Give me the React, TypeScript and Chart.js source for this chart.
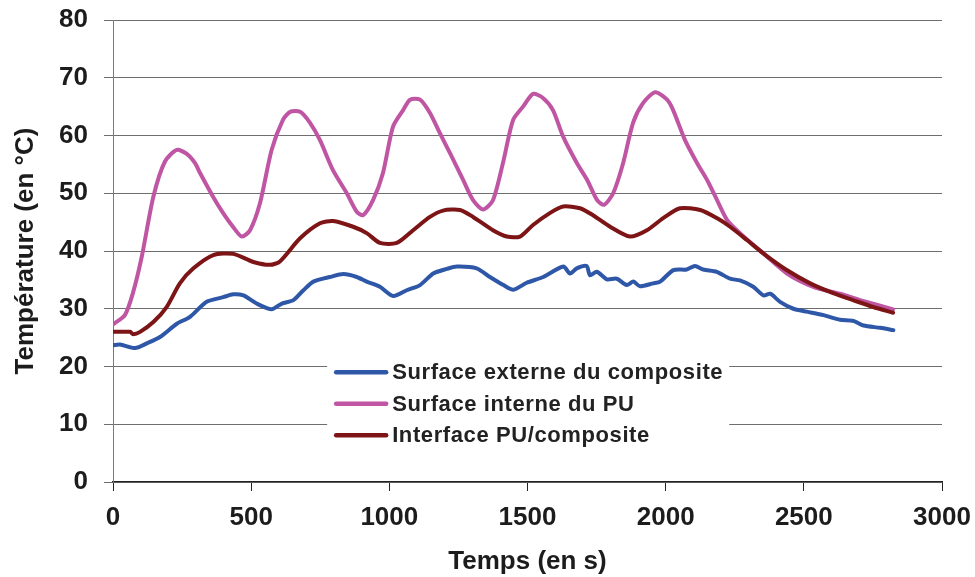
import React, { useEffect, useRef } from "react";
import { Chart, registerables } from "chart.js";

Chart.register(...registerables);

// ---- Data ----
const seriesLabels = [
  "Surface externe du composite",
  "Surface interne du PU",
  "Interface PU/composite",
];
const seriesColors = ["#2f57a8", "#bf55a3", "#7d1416"];

const xTickValues = [0, 500, 1000, 1500, 2000, 2500, 3000];
const yTickValues = [0, 10, 20, 30, 40, 50, 60, 70, 80];

const blueTimes = [0, 25, 80, 122, 170, 231, 279, 339, 399, 435, 472, 520, 574, 611, 653, 689, 725, 785, 834, 882, 918, 966, 1014, 1063, 1111, 1159, 1208, 1244, 1316, 1364, 1413, 1449, 1497, 1557, 1630, 1654, 1678, 1714, 1726, 1751, 1787, 1823, 1859, 1883, 1907, 1955, 1980, 2028, 2076, 2106, 2136, 2185, 2233, 2269, 2317, 2354, 2378, 2414, 2462, 2511, 2571, 2631, 2679, 2716, 2776, 2824];
const blueValues = [23.7, 23.8, 23.2, 24, 25.1, 27.4, 28.6, 31.2, 32, 32.5, 32.3, 30.9, 29.9, 30.9, 31.5, 33.2, 34.7, 35.5, 36, 35.5, 34.7, 33.8, 32.2, 33.2, 34.1, 36.1, 36.9, 37.3, 37, 35.5, 34.1, 33.3, 34.5, 35.5, 37.3, 36.1, 37, 37.4, 35.8, 36.4, 35.1, 35.2, 34.1, 34.7, 33.9, 34.4, 34.7, 36.7, 36.8, 37.4, 36.8, 36.4, 35.2, 34.9, 33.8, 32.3, 32.6, 31.2, 30, 29.5, 28.9, 28.1, 27.9, 27.1, 26.7, 26.3];

const pinkTimes = [0, 43, 72, 104, 146, 188, 231, 267, 297, 315, 362, 398, 434, 466, 496, 532, 574, 615, 641, 677, 713, 749, 796, 846, 882, 905, 941, 977, 1013, 1050, 1075, 1111, 1147, 1183, 1220, 1267, 1303, 1339, 1375, 1411, 1448, 1484, 1520, 1556, 1592, 1629, 1679, 1716, 1752, 1777, 1810, 1846, 1882, 1918, 1962, 2005, 2027, 2070, 2114, 2150, 2186, 2222, 2269, 2353, 2439, 2534, 2631, 2704, 2823];
const pinkValues = [27.3, 28.9, 32.7, 39, 49.4, 55.5, 57.5, 56.8, 55.2, 53.5, 49.4, 46.6, 44.2, 42.5, 43.6, 48.3, 57.5, 62.7, 64.1, 64.1, 62.2, 59.2, 54, 50, 46.8, 46.2, 48.8, 53.5, 61.5, 64.4, 66.2, 66.2, 63.9, 60.4, 56.9, 52.3, 48.8, 47.2, 48.8, 55.2, 62.7, 65, 67.2, 66.5, 64.4, 59.8, 55.2, 52.3, 48.8, 48, 50, 55.2, 62.2, 65.6, 67.5, 66.2, 64.4, 59.2, 55.2, 52.3, 48.8, 45.4, 43.1, 39.6, 36.1, 33.8, 32.6, 31.5, 29.9];

const redTimes = [0, 62, 73, 98, 146, 194, 242, 291, 363, 435, 508, 568, 604, 677, 749, 796, 869, 918, 966, 1027, 1086, 1147, 1194, 1256, 1303, 1375, 1425, 1473, 1520, 1582, 1629, 1690, 1737, 1799, 1871, 1932, 1991, 2052, 2125, 2185, 2233, 2294, 2353, 2438, 2523, 2606, 2678, 2751, 2823];
const redValues = [26, 26, 25.6, 26, 27.7, 30.3, 34.4, 37, 39.3, 39.5, 38.1, 37.6, 38.2, 42.2, 44.8, 45.2, 44.2, 43.1, 41.4, 41.4, 43.6, 45.9, 47, 47.1, 45.9, 43.6, 42.5, 42.5, 44.5, 46.6, 47.7, 47.4, 46.2, 44.2, 42.5, 43.6, 45.7, 47.4, 47.1, 45.7, 44.2, 41.9, 39.6, 36.7, 34.4, 32.7, 31.5, 30.3, 29.3];

const xTitle = "Temps (en s)";
const yTitle = "Température (en °C)";

const FONT = "'Liberation Sans', Arial, Helvetica, sans-serif";

function toPoints(times: number[], values: number[]) {
  return times.map((t, i) => ({ x: t, y: values[i] }));
}

const boxLegendPlugin = {
  id: "boxLegend",
  afterDatasetsDraw(chart: any) {
    const c = chart.ctx as CanvasRenderingContext2D;
    const xs = chart.scales.x;
    const ys = chart.scales.y;
    const left = xs.getPixelForValue(775);
    const right = xs.getPixelForValue(2230);
    const top = ys.getPixelForValue(21.6);
    const bottom = ys.getPixelForValue(5.1);
    c.save();
    c.fillStyle = "#ffffff";
    c.fillRect(left, top, right - left, bottom - top);
    c.font = `bold 22px ${FONT}`;
    (c as any).letterSpacing = "0.6px";
    c.textBaseline = "middle";
    c.textAlign = "left";
    seriesLabels.forEach((label, i) => {
      const y = top + 15 + i * 31.5;
      c.strokeStyle = seriesColors[i];
      c.lineWidth = 4.5;
      c.lineCap = "round";
      c.beginPath();
      c.moveTo(left + 9, y);
      c.lineTo(left + 59, y);
      c.stroke();
      c.fillStyle = "#222222";
      c.fillText(label, left + 65, y + 1);
    });
    c.restore();
  },
};

export default function App() {
  const ref = useRef<HTMLCanvasElement>(null);
  useEffect(() => {
    document.body.style.margin = "0";
    const canvas = ref.current;
    if (!canvas) return;
    const tickFont = { family: FONT, size: 26, weight: "bold" as const };
    const chart = new Chart(canvas, {
      type: "line",
      data: {
        datasets: [
          {
            label: seriesLabels[0],
            data: toPoints(blueTimes, blueValues),
            borderColor: seriesColors[0],
            order: 1,
          },
          {
            label: seriesLabels[1],
            data: toPoints(pinkTimes, pinkValues),
            borderColor: seriesColors[1],
            order: 2,
          },
          {
            label: seriesLabels[2],
            data: toPoints(redTimes, redValues),
            borderColor: seriesColors[2],
            order: 0,
          },
        ].map((d) => ({
          ...d,
          borderWidth: 4,
          pointRadius: 0,
          tension: 0.25,
          fill: false,
          borderJoinStyle: "round" as const,
          borderCapStyle: "round" as const,
        })),
      },
      options: {
        responsive: false,
        animation: false,
        layout: { padding: { top: 20, right: 33, left: 0, bottom: 0 } },
        plugins: {
          legend: { display: false },
          tooltip: { enabled: false },
        },
        scales: {
          x: {
            type: "linear",
            min: 0,
            max: 3000,
            afterBuildTicks: (s: any) => {
              s.ticks = xTickValues.map((v) => ({ value: v }));
            },
            afterFit: (s: any) => {
              s.height = 95;
              s.paddingLeft = 0;
              s.paddingRight = 0;
            },
            grid: {
              drawOnChartArea: false,
              drawTicks: true,
              tickLength: 9,
              color: "#222222",
              lineWidth: 1,
            },
            border: { display: true, color: "#222222", width: 1.2 },
            ticks: {
              font: tickFont,
              color: "#1c1c1c",
              padding: 11,
              maxRotation: 0,
              autoSkip: false,
              callback: (v: any) => String(v),
            },
            title: {
              display: true,
              text: xTitle,
              font: { family: FONT, size: 26, weight: "bold" },
              color: "#1c1c1c",
              padding: { top: 0, bottom: 0 },
            },
          },
          y: {
            type: "linear",
            min: 0,
            max: 80,
            afterBuildTicks: (s: any) => {
              s.ticks = yTickValues.map((v) => ({ value: v }));
            },
            afterFit: (s: any) => {
              s.width = 113;
              s.paddingTop = 0;
              s.paddingBottom = 0;
            },
            grid: {
              drawOnChartArea: true,
              drawTicks: true,
              tickLength: 9,
              color: "#6e6e6e",
              lineWidth: 1,
            },
            border: { display: true, color: "#7a7a7a", width: 1 },
            ticks: { font: tickFont, color: "#1c1c1c", padding: 16, callback: (v: any) => String(v) },
            title: {
              display: true,
              text: yTitle,
              font: { family: FONT, size: 26, weight: "bold" },
              color: "#1c1c1c",
              padding: { top: 10, bottom: 0 },
            },
          },
        },
      },
      plugins: [boxLegendPlugin],
    });
    return () => chart.destroy();
  }, []);
  return (
    <div style={{ width: 975, height: 577, background: "#ffffff" }}>
      <canvas ref={ref} width={975} height={577} style={{ display: "block" }} />
    </div>
  );
}
